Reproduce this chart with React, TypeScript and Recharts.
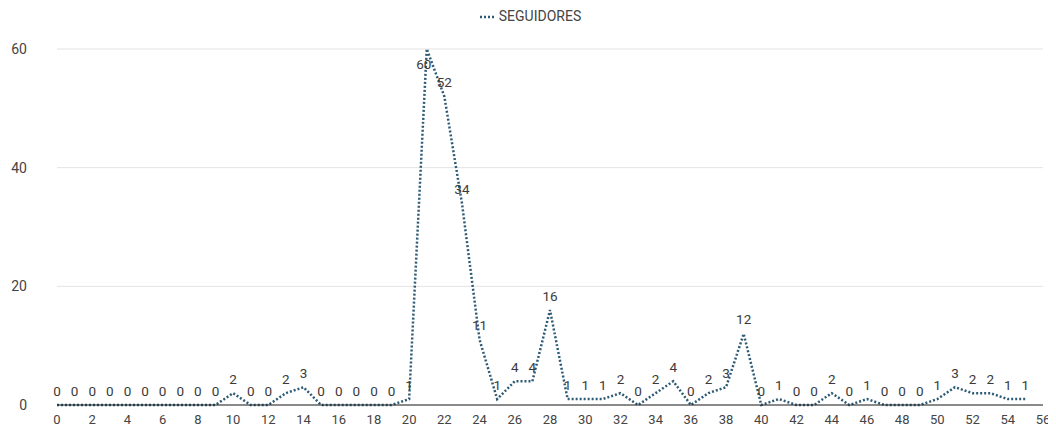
import React from "react";
import {
  CartesianGrid,
  LabelList,
  Legend,
  Line,
  LineChart,
  XAxis,
  YAxis,
} from "recharts";

// one value per day index
const days = Array.from({ length: 56 }, (_, i) => i);
const seguidores = [
  0, 0, 0, 0, 0, 0, 0, 0, 0, 0, 2, 0, 0, 2, 3, 0, 0, 0, 0, 0, 1, 60, 52, 34,
  11, 1, 4, 4, 16, 1, 1, 1, 2, 0, 2, 4, 0, 2, 3, 12, 0, 1, 0, 0, 2, 0, 1, 0, 0,
  0, 1, 3, 2, 2, 1, 1,
];
const xTicks = Array.from({ length: 29 }, (_, i) => i * 2);
const yTicks = [0, 20, 40, 60];

const LINE_COLOR = "#2d5a74";
const FONT = "Roboto, 'Noto Sans', sans-serif";

const rows = days.map((d, i) => ({ day: d, seguidores: seguidores[i] }));

function ValueLabel(props: any) {
  const { x, y, value } = props;
  // labels that would leave the plot go just under their point
  const above = y - 13;
  const tooHigh = above < 57;
  return (
    <text
      x={tooHigh ? x - 3 : x}
      y={tooHigh ? 57 : above}
      textAnchor="middle"
      dominantBaseline="middle"
      fontSize={13.5}
      fontFamily={FONT}
      fill="#3a3a3a"
    >
      {value}
    </text>
  );
}

function LegendContent() {
  return (
    <div
      style={{
        textAlign: "center",
        fontFamily: FONT,
        fontSize: 14,
        color: "#444",
        lineHeight: "16px",
      }}
    >
      <svg width={16} height={8} style={{ verticalAlign: "middle", marginRight: 4 }}>
        <line
          x1={1}
          y1={4}
          x2={15}
          y2={4}
          stroke={LINE_COLOR}
          strokeWidth={2.5}
          strokeDasharray="2 2"
        />
      </svg>
      SEGUIDORES
    </div>
  );
}

export default function App() {
  return (
    <LineChart
      width={1048}
      height={423}
      data={rows}
      margin={{ top: 11, right: 13, bottom: 6, left: 9 }}
    >
      <Legend
        verticalAlign="top"
        height={30}
        wrapperStyle={{ top: 0 }}
        content={<LegendContent />}
      />
      <CartesianGrid vertical={false} stroke="#e3e3e3" />
      <XAxis
        dataKey="day"
        type="number"
        domain={[0, 56]}
        ticks={xTicks}
        interval={0}
        height={20}
        tickLine={false}
        tickSize={0}
        tickMargin={10}
        axisLine={{ stroke: "#222", strokeWidth: 1 }}
        tick={{ fontSize: 13, fill: "#444", fontFamily: FONT }}
      />
      <YAxis
        domain={[0, 60]}
        ticks={yTicks}
        width={40}
        axisLine={false}
        tickLine={false}
        tickSize={0}
        tickMargin={30}
        tick={{ fontSize: 14, fill: "#444", fontFamily: FONT }}
      />
      <Line
        type="linear"
        dataKey="seguidores"
        stroke={LINE_COLOR}
        strokeWidth={2.5}
        strokeDasharray="2 2"
        dot={false}
        activeDot={false}
        isAnimationActive={false}
      >
        <LabelList dataKey="seguidores" content={<ValueLabel />} />
      </Line>
    </LineChart>
  );
}
